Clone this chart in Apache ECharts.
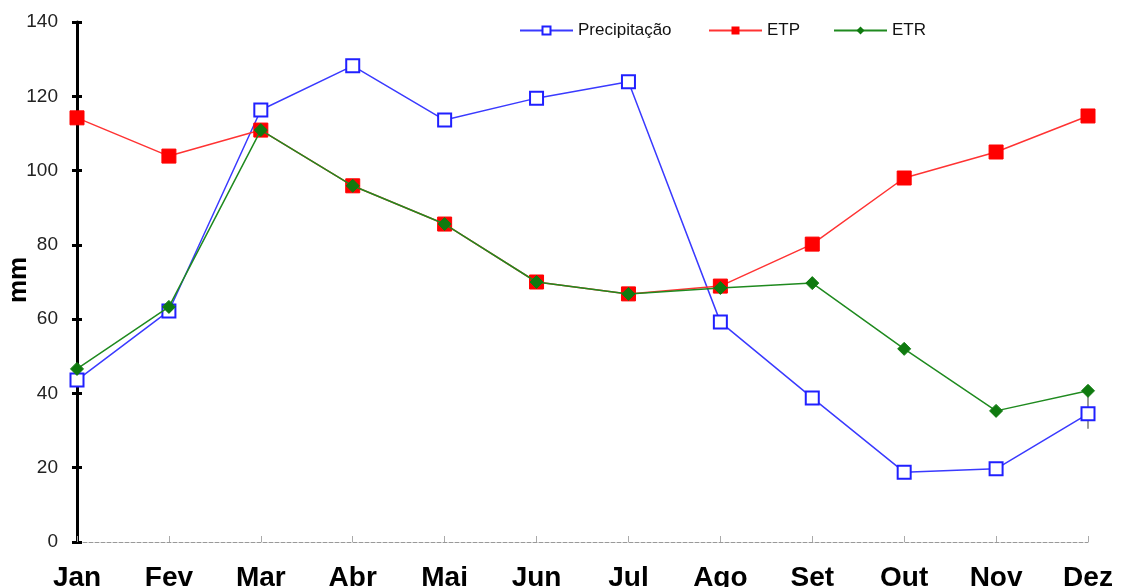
<!DOCTYPE html>
<html><head><meta charset="utf-8">
<script src="https://cdn.jsdelivr.net/npm/echarts@6/dist/echarts.min.js"></script>
<style>html,body{margin:0;padding:0;background:#fff}#c{width:1122px;height:587px}</style>
</head><body><div id="c"></div>
<script>
const months = ['Jan','Fev','Mar','Abr','Mai','Jun','Jul','Ago','Set','Out','Nov','Dez'];
const precipitacao = [43.6, 62.2, 116.3, 128.2, 113.6, 119.5, 123.9, 59.2, 38.8, 18.8, 19.7, 34.5];
const etp = [114.2, 103.9, 110.9, 95.9, 85.6, 70.0, 66.8, 68.9, 80.2, 98.0, 105.0, 114.7];
const etr = [46.6, 63.3, 110.9, 95.9, 85.6, 70.0, 66.8, 68.4, 69.7, 52.0, 35.3, 40.7];
const yTicks = [0, 20, 40, 60, 80, 100, 120, 140];
const dezMarkLow = 30.5;

const font = 'Arial, "Liberation Sans", sans-serif';
const chart = echarts.init(document.getElementById('c'));
const legendText = {fontFamily: font, fontSize: 17, color: '#111'};
const legendBase = {top: 22, itemWidth: 53, itemHeight: 10, itemGap: 4, textStyle: legendText, padding: 0};
chart.setOption({
  animation: false,
  grid: {left: 77, right: 34, top: 22, bottom: 45, containLabel: false, outerBoundsMode: 'none'},
  legend: [
    Object.assign({data: ['Precipitação'], left: 519}, legendBase),
    Object.assign({data: ['ETP'], left: 708}, legendBase),
    Object.assign({data: ['ETR'], left: 833}, legendBase)
  ],
  xAxis: {
    type: 'category', data: months, boundaryGap: false,
    axisLine: {lineStyle: {color: '#999', type: [4, 2], width: 1}},
    axisTick: {show: true, inside: true, length: 6, alignWithLabel: true, lineStyle: {color: '#aaa'}},
    axisLabel: {fontFamily: font, fontSize: 28, fontWeight: 'bold', color: '#000', margin: 22}
  },
  yAxis: [{
    type: 'value', min: 0, max: 140, interval: 20,
    name: 'mm', nameLocation: 'middle', nameRotate: 90, nameGap: 45, nameMoveOverlap: false,
    nameTextStyle: {fontFamily: font, fontSize: 26, fontWeight: 'bold', color: '#000', padding: [0, 0, 0, 4]},
    splitLine: {show: false},
    axisLine: {show: true, lineStyle: {color: '#000', width: 3}},
    axisTick: {show: true, length: 5, lineStyle: {color: '#000', width: 3}},
    axisLabel: {fontFamily: font, fontSize: 19, color: '#222', margin: 19,
      formatter: v => yTicks.includes(v) ? String(v) : ''}
  }, {
    type: 'value', min: 0, max: 140, interval: 20, position: 'left', offset: 0,
    splitLine: {show: false}, axisLine: {show: false}, axisLabel: {show: false},
    axisTick: {show: true, inside: true, length: 5, lineStyle: {color: '#000', width: 3}}
  }],
  series: [
    {name: 'Precipitação', type: 'line', data: precipitacao, symbol: 'rect', symbolSize: 13,
      lineStyle: {color: '#3a3aff', width: 1.5},
      itemStyle: {color: '#fff', borderColor: '#2020ff', borderWidth: 2}, z: 3},
    {name: 'ETP', type: 'line', data: etp, symbol: 'rect', symbolSize: 14,
      lineStyle: {color: '#ff3333', width: 1.5},
      itemStyle: {color: '#ff0000', borderColor: '#ff0000'}, z: 4},
    {name: 'ETR', type: 'line', data: etr, symbol: 'diamond', symbolSize: 13,
      lineStyle: {color: '#1f8a1f', width: 1.5},
      itemStyle: {color: '#0f7a0f', borderColor: '#0f7a0f'}, z: 5,
      markLine: {silent: true, symbol: 'none', z: 1, label: {show: false},
        lineStyle: {color: '#999', type: 'solid', width: 2},
        data: [[{coord: ['Dez', etr[11]]}, {coord: ['Dez', dezMarkLow]}]]}}
  ]
});
</script></body></html>
